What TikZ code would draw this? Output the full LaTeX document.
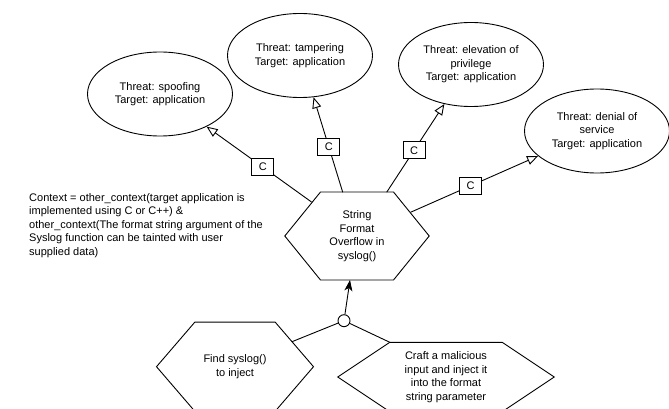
\documentclass[tikz,border=0pt]{standalone}
\usepackage{fontspec}
\setmainfont{Liberation Sans}
\usetikzlibrary{shapes.geometric,arrows.meta}

\newcommand{\dfont}{\fontsize{11pt}{13.6pt}\selectfont}
% outline of a flat-topped hexagon around a (plain) node #1, with side inset #2
\newcommand{\hexoutline}[2]{%
  \draw[edge] (#1.west) -- ([xshift=#2]#1.north west) -- ([xshift=-#2]#1.north east)
    -- (#1.east) -- ([xshift=-#2]#1.south east) -- ([xshift=#2]#1.south west) -- cycle;}

\begin{document}
\begin{tikzpicture}[x=1pt,y=-1pt,
  edge/.style={line width=0.9pt, black},
  threat/.style={ellipse, draw, line width=0.9pt, minimum width=145pt, minimum height=84pt,
    inner sep=0pt, align=center, font=\dfont},
  hexnode/.style={inner sep=0pt, align=center, font=\dfont},
  cbox/.style={draw, line width=0.9pt, fill=white, minimum width=22pt, minimum height=17pt,
    inner sep=0pt, font=\dfont},
  toThreat/.style={edge, -{Triangle[open, length=11pt, width=9pt, line width=0.9pt]}},
  refines/.style={edge, -{Stealth[length=11pt, width=8pt, inset=3pt]}},
  note/.style={align=left, inner sep=0pt, font=\dfont}]

\useasboundingbox (0,0) rectangle (669,409);
\fill[white] (0,0) rectangle (669,409);
\clip (0,0) rectangle (669,409);

% threats
\node[threat] (sp) at (160,94)    {Threat: spoofing\\Target: application};
\node[threat] (tp) at (300,55.5)  {Threat: tampering\\Target: application};
\node[threat] (el) at (471,64.5)  {Threat: elevation of\\privilege\\Target: application};
\node[threat] (dn) at (597,131)   {Threat: denial of\\service\\Target: application};

% attack steps
\node[hexnode, minimum width=144pt, minimum height=87.6pt] (main) at (357,236)
  {String\\Format\\Overflow in\\syslog()};
\hexoutline{main}{35.7pt}

\node[hexnode, minimum width=156.6pt, minimum height=88.7pt] (find) at (235,366.7)
  {Find syslog()\\to inject};
\hexoutline{find}{38.3pt}

\node[hexnode, minimum width=216pt, minimum height=69pt] (craft) at (446,377)
  {Craft a malicious\\input and inject it\\into the format\\string parameter};
\hexoutline{craft}{52pt}

% context annotation
\node[note, anchor=west] (ctx) at (29,225.5)
  {Context = other\_context(target application is\\
   implemented using C or C++) \&\\
   other\_context(The format string argument of the\\
   Syslog function can be tainted with user\\
   supplied data)};

% threat links
\draw[toThreat] ([shift={(-45.5,-34)}]main.center) -- node[cbox, pos=0.464] (c1) {C} (sp.-35);
\draw[toThreat] ([shift={(-14.3,-43.8)}]main.center) -- node[cbox, pos=0.476] (c2) {C} (tp.-72);
\draw[toThreat] ([shift={(29.7,-43.8)}]main.center) -- node[cbox, pos=0.474] (c3) {C} (el.-124);
\draw[toThreat] ([shift={(53.5,-23.7)}]main.center) -- node[cbox, pos=0.472] (c4) {C} (dn.-157);

% AND-refinement of the attack
\node[circle, draw, line width=0.9pt, fill=white, minimum size=12pt, inner sep=0pt] (and) at (344,320.7) {};
\draw[edge] (and) -- ([shift={(57,-25)}]find.center);
\draw[edge] (and) -- ([xshift=52pt]craft.north west);
\draw[refines] (and) -- ([xshift=-7pt]main.south);

\end{tikzpicture}
\end{document}
